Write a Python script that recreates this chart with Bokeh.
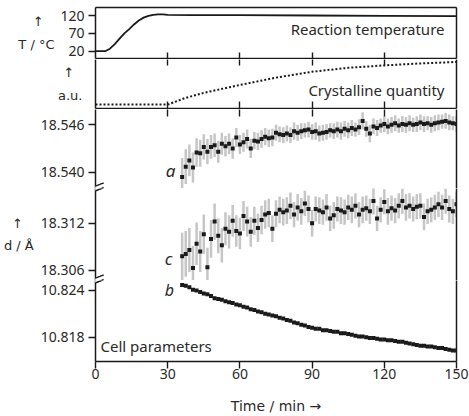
from bokeh.plotting import figure
from bokeh.layouts import column
from bokeh.models import (Range1d, LinearAxis, FixedTicker, PrintfTickFormatter, Label, Arrow,
                          ColumnDataSource, CustomJSTickFormatter)
from bokeh.embed import file_html
from bokeh.resources import INLINE

# ---------------- data ----------------
time_temp = [0, 4, 6, 8, 10, 12, 14, 16, 18, 20, 22, 24, 26, 28, 30, 40, 60, 90, 120, 150]
temp_c = [20, 20, 27, 40, 55, 70, 82, 95, 106, 114, 119, 122, 123, 123, 122, 121, 121, 120, 119, 118]

time_cryst = [0, 30, 37, 45, 60, 75, 90, 105, 120, 135, 150]
cryst_au = [0.08, 0.08, 0.21, 0.32, 0.48, 0.63, 0.75, 0.83, 0.88, 0.92, 0.95]

time_min = [36, 37.5, 39, 40.5, 42, 43.5, 45, 46.5, 48, 49.5,
            51, 52.5, 54, 55.5, 57, 58.5, 60, 61.5, 63, 64.5,
            66, 67.5, 69, 70.5, 72, 73.5, 75, 76.5, 78, 79.5,
            81, 82.5, 84, 85.5, 87, 88.5, 90, 91.5, 93, 94.5,
            96, 97.5, 99, 100.5, 102, 103.5, 105, 106.5, 108, 109.5,
            111, 112.5, 114, 115.5, 117, 118.5, 120, 121.5, 123, 124.5,
            126, 127.5, 129, 130.5, 132, 133.5, 135, 136.5, 138, 139.5,
            141, 142.5, 144, 145.5, 147, 148.5, 150]

a_val = [18.5394, 18.5407, 18.5415, 18.5406, 18.5425, 18.5424, 18.5432, 18.5426, 18.5432, 18.5434,
         18.5426, 18.5436, 18.5433, 18.5436, 18.5430, 18.5444, 18.5435, 18.5438, 18.5442, 18.5430,
         18.5440, 18.5439, 18.5442, 18.5445, 18.5443, 18.5444, 18.5450, 18.5448, 18.5447, 18.5449,
         18.5447, 18.5452, 18.5450, 18.5452, 18.5453, 18.5454, 18.5451, 18.5452, 18.5449, 18.5450,
         18.5451, 18.5453, 18.5452, 18.5454, 18.5452, 18.5455, 18.5453, 18.5456, 18.5454, 18.5457,
         18.5465, 18.5455, 18.5449, 18.5458, 18.5456, 18.5459, 18.5461, 18.5458, 18.5460, 18.5462,
         18.5459, 18.5461, 18.5460, 18.5462, 18.5460, 18.5461, 18.5463, 18.5461, 18.5462, 18.5460,
         18.5462, 18.5463, 18.5464, 18.5465, 18.5463, 18.5462, 18.5461]
a_err = [0.0024, 0.0022, 0.0020, 0.0019, 0.0018, 0.0017, 0.0016, 0.0016, 0.0015, 0.0015,
         0.0014, 0.0014, 0.0013, 0.0013, 0.0013, 0.0012, 0.0012, 0.0012, 0.0012, 0.0012,
         0.0011, 0.0011, 0.0011, 0.0011, 0.0011, 0.0011, 0.0010, 0.0010, 0.0010, 0.0010,
         0.0010, 0.0011, 0.0010, 0.0010, 0.0009, 0.0010, 0.0010, 0.0011, 0.0010, 0.0010,
         0.0010, 0.0009, 0.0010, 0.0010, 0.0011, 0.0010, 0.0010, 0.0010, 0.0009, 0.0010,
         0.0011, 0.0010, 0.0011, 0.0010, 0.0010, 0.0009, 0.0010, 0.0010, 0.0010, 0.0010,
         0.0009, 0.0010, 0.0010, 0.0010, 0.0009, 0.0010, 0.0010, 0.0010, 0.0009, 0.0010,
         0.0010, 0.0010, 0.0009, 0.0010, 0.0010, 0.0009, 0.0010]

c_val = [18.3078, 18.3081, 18.3086, 18.3063, 18.3094, 18.3084, 18.3106, 18.3064, 18.3100, 18.3122,
         18.3104, 18.3092, 18.3113, 18.3109, 18.3123, 18.3110, 18.3107, 18.3129, 18.3122, 18.3109,
         18.3123, 18.3114, 18.3124, 18.3131, 18.3133, 18.3113, 18.3132, 18.3137, 18.3134, 18.3136,
         18.3142, 18.3131, 18.3140, 18.3135, 18.3145, 18.3138, 18.3120, 18.3138, 18.3136, 18.3134,
         18.3140, 18.3126, 18.3130, 18.3138, 18.3136, 18.3134, 18.3140, 18.3137, 18.3142, 18.3131,
         18.3137, 18.3139, 18.3135, 18.3148, 18.3126, 18.3137, 18.3147, 18.3135, 18.3139, 18.3136,
         18.3142, 18.3148, 18.3140, 18.3142, 18.3138, 18.3141, 18.3142, 18.3128, 18.3135, 18.3137,
         18.3140, 18.3144, 18.3140, 18.3148, 18.3138, 18.3135, 18.3144]
c_err = [0.0030, 0.0029, 0.0028, 0.0028, 0.0027, 0.0026, 0.0025, 0.0025, 0.0024, 0.0023,
         0.0022, 0.0022, 0.0021, 0.0021, 0.0020, 0.0020, 0.0020, 0.0019, 0.0019, 0.0019,
         0.0018, 0.0018, 0.0018, 0.0018, 0.0018, 0.0017, 0.0017, 0.0017, 0.0017, 0.0017,
         0.0017, 0.0016, 0.0017, 0.0017, 0.0016, 0.0017, 0.0017, 0.0016, 0.0017, 0.0016,
         0.0017, 0.0016, 0.0017, 0.0016, 0.0017, 0.0016, 0.0016, 0.0017, 0.0016, 0.0016,
         0.0017, 0.0016, 0.0016, 0.0017, 0.0016, 0.0016, 0.0016, 0.0017, 0.0016, 0.0016,
         0.0016, 0.0016, 0.0017, 0.0016, 0.0016, 0.0016, 0.0016, 0.0017, 0.0016, 0.0016,
         0.0016, 0.0016, 0.0016, 0.0016, 0.0017, 0.0016, 0.0016]

b_val = [10.8247, 10.8246, 10.8244, 10.8241, 10.8240, 10.8238, 10.8236, 10.8235, 10.8233, 10.8230,
         10.8229, 10.8228, 10.8226, 10.8225, 10.8224, 10.8222, 10.8221, 10.8219, 10.8218, 10.8216,
         10.8215, 10.8213, 10.8212, 10.8210, 10.8209, 10.8208, 10.8207, 10.8205, 10.8204, 10.8202,
         10.8201, 10.8199, 10.8198, 10.8196, 10.8195, 10.8193, 10.8192, 10.8191, 10.8191, 10.8189,
         10.8189, 10.8188, 10.8187, 10.8187, 10.8185, 10.8185, 10.8184, 10.8183, 10.8182, 10.8181,
         10.8181, 10.8180, 10.8179, 10.8179, 10.8178, 10.8177, 10.8177, 10.8176, 10.8176, 10.8175,
         10.8174, 10.8174, 10.8173, 10.8172, 10.8171, 10.8170, 10.8169, 10.8169, 10.8168, 10.8168,
         10.8167, 10.8166, 10.8166, 10.8165, 10.8164, 10.8163, 10.8163]

temp_ticks = [20, 70, 120]
a_ticks = [18.540, 18.546]
c_ticks = [18.306, 18.312]
b_ticks = [10.818, 10.824]
time_ticks = [0, 30, 60, 90, 120, 150]
inner_time_ticks = [30, 60, 90, 120]

# ---------------- style ----------------
FONT = "Noto Sans"
AFONT = "DejaVu Sans"   # axis titles with arrows
INK = "#1a1a1a"
TXT = "#2a2a2a"
GREY = "#c6c6c6"
FS = "14px"
TS = "15px"
W = 469
LEFT, RIGHT = 95, 13
NB = "\u00a0"
THIN = "\u2009"


def make_fig(h, yr, top, bottom, xaxis=False):
    p = figure(width=W, height=h, output_backend="svg", toolbar_location=None,
               x_range=Range1d(0, 150), y_range=Range1d(*yr),
               min_border_left=LEFT, min_border_right=RIGHT,
               min_border_top=top, min_border_bottom=bottom,
               x_axis_location="below" if xaxis else None, y_axis_location="left",
               outline_line_color=None, background_fill_color="white",
               border_fill_color="white")
    p.xgrid.visible = False
    p.ygrid.visible = False
    return p


def style_axis(ax, ticks=(), tick_in=0, tick_out=0, line=True, labels=False, fmt=None):
    ax.ticker = FixedTicker(ticks=list(ticks))
    ax.minor_tick_line_color = None
    ax.major_tick_in = tick_in
    ax.major_tick_out = tick_out
    ax.major_tick_line_color = INK if ticks else None
    ax.major_tick_line_width = 1.4
    ax.axis_line_color = INK if line else None
    ax.axis_line_width = 1.5
    if labels:
        ax.major_label_text_font = FONT
        ax.major_label_text_font_size = FS
        ax.major_label_text_color = TXT
        ax.major_label_standoff = 4
        if fmt:
            ax.formatter = PrintfTickFormatter(format=fmt)
    else:
        ax.formatter = CustomJSTickFormatter(code="return ''")
        ax.major_label_text_font_size = "0px"
        ax.major_label_standoff = 0


def add_side(p, where, **kw):
    ax = LinearAxis()
    style_axis(ax, **kw)
    p.add_layout(ax, where)
    return ax


def y_label(ax, text, standoff):
    ax.axis_label = text
    ax.axis_label_orientation = "horizontal"
    ax.axis_label_text_font = AFONT
    ax.axis_label_text_font_size = "13px"
    ax.axis_label_text_font_style = "normal"
    ax.axis_label_text_color = TXT
    ax.axis_label_text_line_height = 1.5
    ax.axis_label_standoff = standoff


def add_label(p, text, x, y, align="left", style="normal", size=TS):
    p.add_layout(Label(x=x, y=y, x_units="screen", y_units="screen", text=text,
                       text_align=align, text_baseline="middle", text_font=FONT,
                       text_font_size=size, text_font_style=style, text_color=TXT))


def break_marks(sy):
    marks = [Arrow(end=None, x_start=-7, y_start=sy - 2.8, x_end=7, y_end=sy + 2.8,
                   start_units="screen", end_units="screen", line_color="white", line_width=4)]
    for dy in (-2.3, 2.3):
        marks.append(Arrow(end=None, x_start=-8, y_start=sy - 3.2 + dy, x_end=8, y_end=sy + 3.2 + dy,
                           start_units="screen", end_units="screen", line_color=INK, line_width=1.3))
    return marks


def add_breaks(p, ys):
    left, right = [], []
    for sy in ys:
        left += break_marks(sy)
        right += break_marks(sy)
    p.left = left + list(p.left)
    p.right = right + list(p.right)


# ---------- panel 1: temperature ----------
f1 = make_fig(59, (-0.4, 142.4), 7, 1, xaxis=True)
style_axis(f1.xaxis[0], inner_time_ticks, tick_in=6)
style_axis(f1.yaxis[0], temp_ticks, tick_out=7, labels=True)
y_label(f1.yaxis[0], "\u2191" + NB * 2 + THIN + "\nT / \u00b0C", 3)
add_side(f1, "right")
add_side(f1, "above")
f1.line(time_temp, temp_c, line_color=INK, line_width=1.8)
add_label(f1, "Reaction temperature", 349, 30, align="right")

# ---------- panel 2: crystalline quantity ----------
f2 = make_fig(50, (0, 1), 0, 1, xaxis=True)
style_axis(f2.xaxis[0], inner_time_ticks, tick_in=7)
style_axis(f2.yaxis[0])
y_label(f2.yaxis[0], "\u2191" + NB * 2 + "\na.u.", 13)
add_side(f2, "right")
add_side(f2, "above", ticks=inner_time_ticks, tick_in=6, line=False)
f2.line(time_cryst, cryst_au, line_color=INK, line_width=2, line_dash="2 2")
add_label(f2, "Crystalline quantity", 349, 18.5, align="right")

# ---------- panel 3: cell parameters (broken axis) ----------
src = ColumnDataSource(dict(t=time_min, a=a_val, a_lo=[v - e for v, e in zip(a_val, a_err)],
                            a_hi=[v + e for v, e in zip(a_val, a_err)], c=c_val,
                            c_lo=[v - e for v, e in zip(c_val, c_err)],
                            c_hi=[v + e for v, e in zip(c_val, c_err)], b=b_val))

fa = make_fig(79, (18.53794, 18.54794), 0, 0)
style_axis(fa.yaxis[0], a_ticks, tick_out=7, labels=True, fmt="%.3f")
add_side(fa, "right")
add_side(fa, "above", ticks=inner_time_ticks, tick_in=7, line=False)
fa.segment("t", "a_lo", "t", "a_hi", source=src, line_color=GREY, line_width=2.5)
fa.scatter("t", "a", source=src, marker="square", size=4, fill_color=INK, line_color=None)
add_label(fa, "a", 75, 18, align="center", style="italic", size="17px")

fc = make_fig(92, (18.30473, 18.31640), 0, 0)
style_axis(fc.yaxis[0], c_ticks, tick_out=7, labels=True, fmt="%.3f")
y_label(fc.yaxis[0], "\u2191" + NB * 2 + THIN + "\nd / \u00c5", 4)
add_side(fc, "right")
fc.segment("t", "c_lo", "t", "c_hi", source=src, line_color=GREY, line_width=2.5)
fc.scatter("t", "c", source=src, marker="square", size=4, fill_color=INK, line_color=None)
add_label(fc, "c", 73, 22, align="center", style="italic", size="17px")

fb = make_fig(136, (10.81488, 10.82528), 0, 55, xaxis=True)
style_axis(fb.xaxis[0], time_ticks, tick_out=7, labels=True)
fb.xaxis[0].major_label_standoff = 0
fb.xaxis[0].axis_label = "Time / min \u2192"
fb.xaxis[0].axis_label_text_font = AFONT
fb.xaxis[0].axis_label_text_font_size = "14px"
fb.xaxis[0].axis_label_text_font_style = "normal"
fb.xaxis[0].axis_label_text_color = TXT
fb.xaxis[0].axis_label_standoff = 16
style_axis(fb.yaxis[0], b_ticks, tick_out=7, labels=True, fmt="%.3f")
add_side(fb, "right")
fb.scatter("t", "b", source=src, marker="square", size=4, fill_color=INK, line_color=None)
add_label(fb, "b", 74, 72, align="center", style="italic", size="16px")
add_label(fb, "Cell parameters", 5, 16)

# axis breaks (drawn in both neighbouring panels so each half shows)
add_breaks(fa, [0])
add_breaks(fc, [92, 0])
add_breaks(fb, [81])

layout = column(f1, f2, fa, fc, fb, spacing=0)
open("out.html", "w").write(file_html(layout, INLINE))
